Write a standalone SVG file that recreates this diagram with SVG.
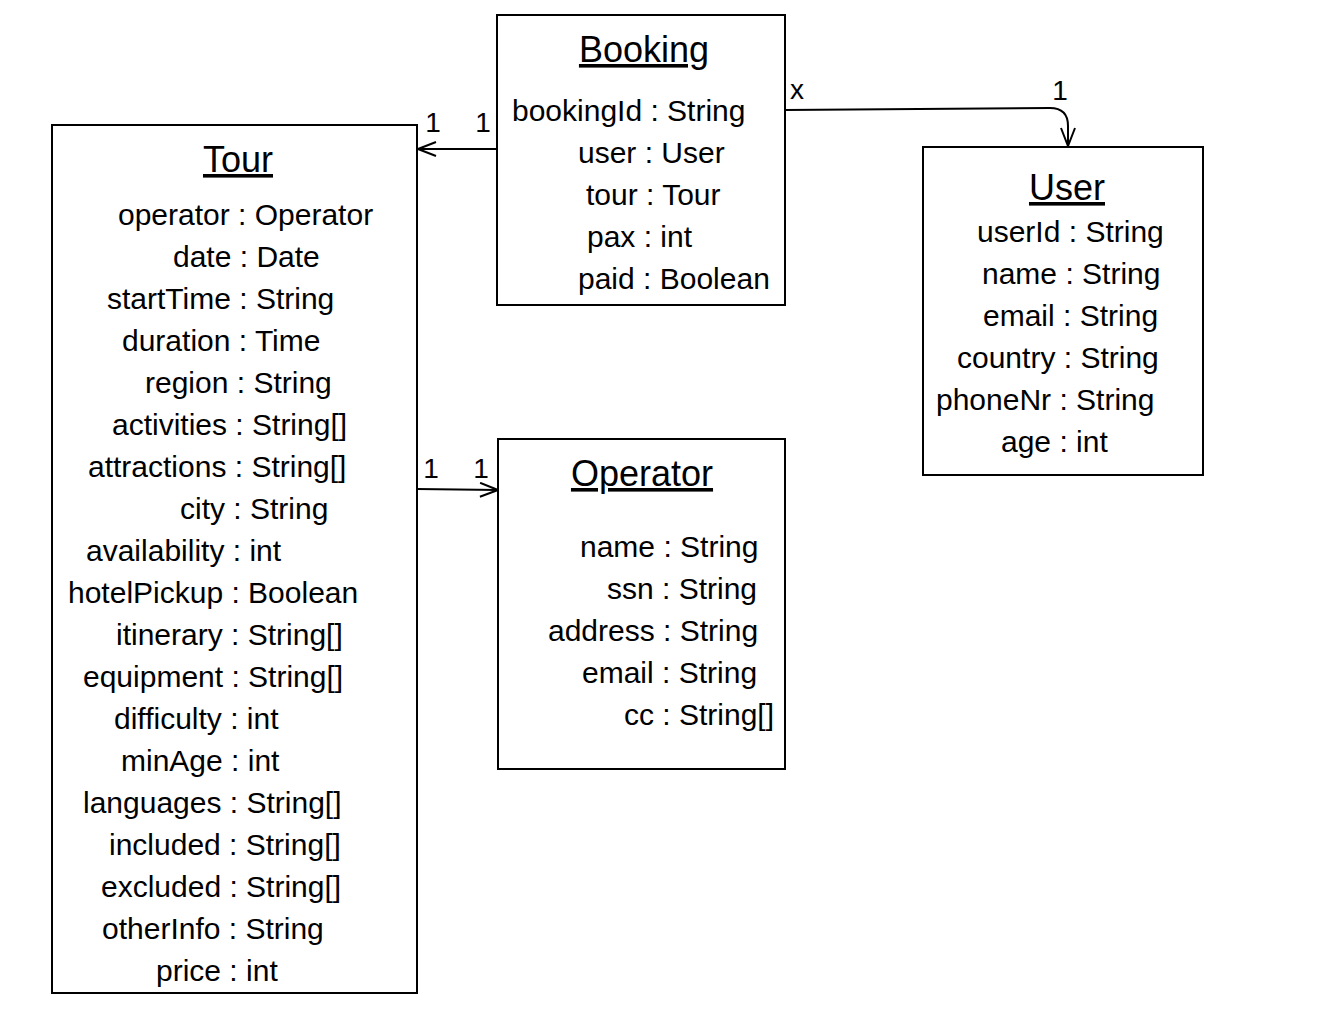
<svg xmlns="http://www.w3.org/2000/svg" width="1323" height="1028" viewBox="0 0 1323 1028">
<style>
.box{fill:#fff;stroke:#000;stroke-width:2}
.t{font-family:"Liberation Sans",Arial,sans-serif;font-size:30px;fill:#000}
.title{font-family:"Liberation Sans",Arial,sans-serif;font-size:36px;fill:#000;text-anchor:middle;text-decoration:underline}
.lbl{font-family:"Liberation Sans",Arial,sans-serif;font-size:28px;fill:#000;text-anchor:middle}
.edge{fill:none;stroke:#000;stroke-width:2}
</style>
<defs>
<marker id="open" viewBox="0 0 20 16" refX="19" refY="8" markerWidth="20" markerHeight="16" markerUnits="userSpaceOnUse" orient="auto">
<path d="M1,1 L19,8 L1,15" fill="none" stroke="#000" stroke-width="2"/>
</marker>
</defs>
<rect width="1323" height="1028" fill="#fff"/>
<g id="connectors">
<path class="edge" d="M497,149 L418,149" marker-end="url(#open)"/>
<path class="edge" d="M417,489 L498,490" marker-end="url(#open)"/>
<path class="edge" d="M785,110 L1050,108 Q1068,108 1068,126 L1068,146" marker-end="url(#open)"/>
<text class="lbl" x="433" y="132">1</text>
<text class="lbl" x="483" y="132">1</text>
<text class="lbl" x="431" y="478">1</text>
<text class="lbl" x="481" y="478">1</text>
<text class="lbl" x="797" y="99">x</text>
<text class="lbl" x="1060" y="100">1</text>
</g>
<g id="tour">
<rect class="box" x="52" y="125" width="365" height="868"/>
<text class="title" x="238" y="172">Tour</text>
<text class="t" x="118" y="225">operator : Operator</text>
<text class="t" x="173" y="267">date : Date</text>
<text class="t" x="107" y="309">startTime : String</text>
<text class="t" x="122" y="351">duration : Time</text>
<text class="t" x="145" y="393">region : String</text>
<text class="t" x="112" y="435">activities : String[]</text>
<text class="t" x="88" y="477">attractions : String[]</text>
<text class="t" x="180" y="519">city : String</text>
<text class="t" x="86" y="561">availability : int</text>
<text class="t" x="68" y="603">hotelPickup : Boolean</text>
<text class="t" x="116" y="645">itinerary : String[]</text>
<text class="t" x="83" y="687">equipment : String[]</text>
<text class="t" x="114" y="729">difficulty : int</text>
<text class="t" x="121" y="771">minAge : int</text>
<text class="t" x="83" y="813">languages : String[]</text>
<text class="t" x="109" y="855">included : String[]</text>
<text class="t" x="101" y="897">excluded : String[]</text>
<text class="t" x="102" y="939">otherInfo : String</text>
<text class="t" x="156" y="981">price : int</text>
</g>
<g id="booking">
<rect class="box" x="497" y="15" width="288" height="290"/>
<text class="title" x="644" y="62">Booking</text>
<text class="t" x="512" y="121">bookingId : String</text>
<text class="t" x="578" y="163">user : User</text>
<text class="t" x="586" y="205">tour : Tour</text>
<text class="t" x="587" y="247">pax : int</text>
<text class="t" x="578" y="289">paid : Boolean</text>
</g>
<g id="user">
<rect class="box" x="923" y="147" width="280" height="328"/>
<text class="title" x="1067" y="200">User</text>
<text class="t" x="977" y="242">userId : String</text>
<text class="t" x="982" y="284">name : String</text>
<text class="t" x="983" y="326">email : String</text>
<text class="t" x="957" y="368">country : String</text>
<text class="t" x="936" y="410">phoneNr : String</text>
<text class="t" x="1001" y="452">age : int</text>
</g>
<g id="operator">
<rect class="box" x="498" y="439" width="287" height="330"/>
<text class="title" x="642" y="486">Operator</text>
<text class="t" x="580" y="557">name : String</text>
<text class="t" x="607" y="599">ssn : String</text>
<text class="t" x="548" y="641">address : String</text>
<text class="t" x="582" y="683">email : String</text>
<text class="t" x="624" y="725">cc : String[]</text>
</g>
</svg>
